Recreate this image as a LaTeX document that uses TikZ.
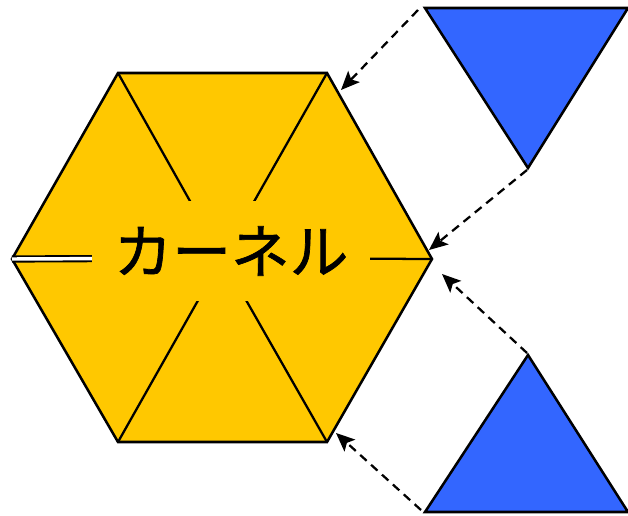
\documentclass[tikz,border=0pt]{standalone}
\usepackage{fontspec}
\newfontfamily\jpfont[FakeBold=1.2]{Noto Sans CJK JP}
\usepackage{tikz}
\usetikzlibrary{arrows.meta}
\definecolor{kernelyellow}{RGB}{255,200,0}
\definecolor{appblue}{RGB}{51,102,255}

\begin{document}
\begin{tikzpicture}[
    x=0.75pt, y=-0.75pt,
    hexa/.style={draw, line width=1.9pt, fill=kernelyellow, line join=miter},
    spoke/.style={draw, line width=1.7pt},
    tri/.style={draw, line width=1.9pt, fill=appblue, line join=miter},
    feed/.style={draw, line width=1.7pt, dash pattern=on 6.5pt off 4.5pt, -{Stealth[length=14pt, width=12pt, inset=3pt]}},
    label/.style={fill=kernelyellow, inner sep=0pt, minimum width=208pt, minimum height=75pt, font=\jpfont\fontsize{44}{44}\selectfont}
  ]
    \useasboundingbox (0,0) rectangle (628,515);
    % hexagon corners
    \coordinate (l) at (12,259);
    \coordinate (tl) at (118,73);
    \coordinate (tr) at (327,73);
    \coordinate (r) at (432,259);
    \coordinate (br) at (327,442);
    \coordinate (bl) at (118,442);
    \coordinate (c) at (222,258);
    \draw[hexa] (l) -- (tl) -- (tr) -- (r) -- (br) -- (bl) -- cycle;
    \foreach \v in {tl,tr,r,br,bl}
      \draw[spoke] (\v) -- (c);
    \draw[line width=1.4pt, double=white, double distance=2.6pt] (l) -- (c);
    \node[label] (kernel) at (231,251) {カーネル};
    % blue triangles
    \coordinate (ut1) at (425,8);
    \coordinate (ut2) at (628,8);
    \coordinate (ut3) at (528,168);
    \coordinate (dt1) at (528,355);
    \coordinate (dt2) at (628,512);
    \coordinate (dt3) at (425,512);
    \draw[tri] (ut1) -- (ut2) -- (ut3) -- cycle;
    \draw[tri] (dt1) -- (dt2) -- (dt3) -- cycle;
    % arrows
    \coordinate (a1) at (341,90);
    \coordinate (a2) at (429,250);
    \coordinate (a3) at (442,274);
    \coordinate (a4) at (336,433);
    \draw[feed] (418,10) -- (a1);
    \draw[feed] (527,170) -- (a2);
    \draw[feed] (527,353) -- (a3);
    \draw[feed] (421,510) -- (a4);
  \end{tikzpicture}
\end{document}
